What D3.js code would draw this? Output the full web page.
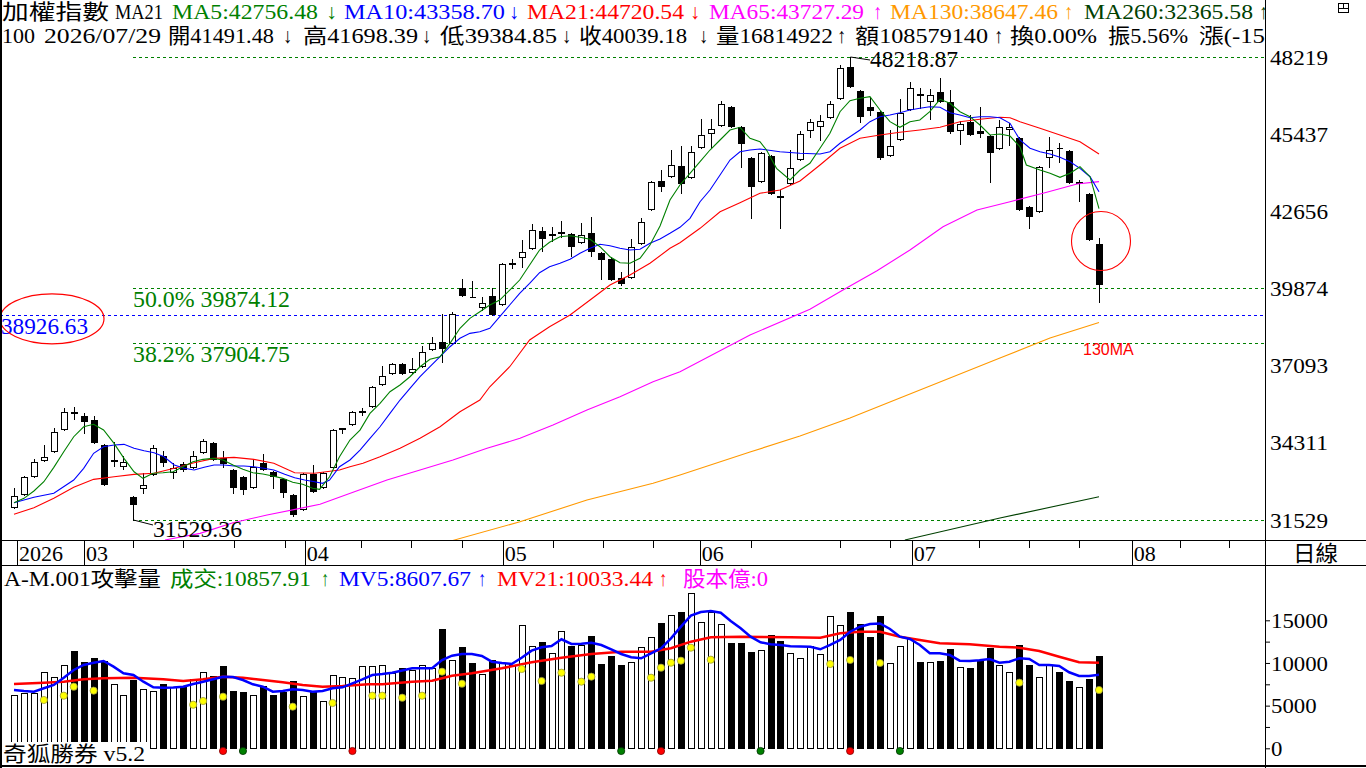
<!DOCTYPE html>
<html>
<head>
<meta charset="utf-8">
<script src="https://cdn.jsdelivr.net/npm/d3@7"></script>
<style>
    body { margin: 0; background: #fff; }
    svg { display: block; }
    text { font-family: "Liberation Serif", "Noto Sans CJK TC", serif; }
</style>
</head>
<body>
<svg id="chart" width="1366" height="768"></svg>
<script>
// Daily candles, index 1..110 (Feb 2026 -> 2026/07/29)
var opens = [31997, 32466, 33115, 33691, 34016, 34809, 35422, 35277, 35133, 34232,
    33655, 33475, 32358, 32682, 33187, 33835, 33259, 33547, 33439, 33980,
    34304, 33763, 33331, 33078, 32718, 33583, 33259, 33006, 32430, 31925,
    33187, 32718, 33439, 34827, 34989, 35440, 35638, 36431, 36827, 37152,
    36864, 37080, 37693, 37945, 37909, 39892, 39585, 39207, 39603, 39315,
    40775, 41009, 41334, 41946, 41820, 41892, 41838, 41550, 41874, 41153,
    40937, 40252, 40288, 41514, 42740, 43749, 43929, 44290, 43893, 44975,
    45479, 45768, 46417, 45696, 44578, 43749, 44650, 43208, 43677, 44542,
    45587, 45732, 46056, 46741, 47859, 46993, 46417, 46236, 44686, 45263,
    46345, 46885, 46633, 46957, 46597, 45587, 45876, 45551, 45371, 44939,
    45624, 45299, 42812, 42667, 44614, 44939, 44830, 43695, 43280, 41491.48];
var highs = [32682, 33115, 33727, 34232, 34845, 35566, 35602, 35385, 35277, 34268,
    34340, 33835, 32394, 33223, 34232, 34016, 33583, 33619, 34016, 34448,
    34340, 34016, 33367, 33115, 33727, 33908, 33295, 33042, 32466, 33223,
    33511, 33259, 34809, 34845, 35458, 35566, 36359, 37080, 37188, 37188,
    37368, 37801, 38125, 38954, 39026, 40216, 40144, 39567, 39892, 40793,
    40937, 41622, 42199, 42091, 42091, 42307, 41874, 42235, 42451, 41189,
    41009, 40468, 41658, 42415, 43749, 44145, 44866, 45011, 45011, 45984,
    45984, 46633, 46453, 45732, 44614, 44794, 44686, 43424, 44866, 45551,
    45984, 46128, 46633, 47931, 48218.87, 47029, 46777, 46272, 45587, 46705,
    47318, 47102, 47066, 47462, 47029, 45912, 46128, 46417, 45407, 45948,
    45840, 45335, 42848, 44290, 45335, 45119, 44866, 43785, 43316, 41698.39];
var lows = [31961, 32430, 33078, 33655, 33980, 34773, 35169, 34665, 34304, 32790,
    33475, 33367, 31529.36, 32502, 33151, 33475, 33042, 33295, 33403, 33944,
    33691, 33439, 32502, 32466, 32682, 33331, 32682, 32358, 31673, 31889,
    32538, 32682, 33403, 34665, 34953, 35313, 35602, 36395, 36791, 36791,
    36827, 37044, 37657, 37224, 37873, 39603, 39567, 39098, 38918, 39279,
    40613, 40649, 41298, 41225, 41586, 41730, 41045, 41514, 41045, 40216,
    40180, 40000, 40252, 41478, 42703, 43388, 43893, 43316, 43857, 44939,
    44975, 45732, 45696, 44254, 42415, 43713, 43280, 42055, 43641, 44506,
    45335, 45227, 46020, 46705, 47138, 45876, 46128, 44542, 44650, 45227,
    46308, 46381, 45984, 46597, 45479, 45083, 45407, 45335, 43713, 44903,
    45047, 42703, 42055, 42631, 44254, 44434, 43677, 43028, 41622, 39384.85];
var closes = [32394, 33078, 33619, 33799, 34701, 35422, 35404, 35097, 34340, 32826,
    33691, 33619, 32105, 32790, 34124, 33619, 33403, 33367, 33835, 34376,
    33727, 33583, 32718, 32646, 33439, 33367, 33115, 32538, 31745, 33187,
    32574, 33223, 34773, 34845, 35422, 35458, 36323, 36719, 37152, 36827,
    36972, 37585, 37909, 37729, 38954, 39639, 39567, 39351, 38954, 40757,
    40793, 41189, 41982, 41694, 41838, 41910, 41406, 41802, 41225, 40937,
    40216, 40072, 41370, 42271, 43713, 43569, 44326, 43677, 44794, 45407,
    45624, 46525, 45732, 45119, 43569, 44758, 43316, 43190, 44218, 45443,
    45876, 45912, 46525, 47823, 47174, 46092, 46308, 44614, 45011, 46200,
    47102, 46867, 46849, 46633, 45551, 45804, 45443, 45479, 44794, 45696,
    45696, 42740, 42487, 44254, 44866, 44921, 43713, 43713, 41658, 40039.18];
var volumes = [6250, 6520, 6500, 8900, 8360, 9730, 11400, 10080, 10620, 10230,
    7540, 6250, 8000, 6910, 6720, 7540, 7150, 7150, 8090, 8900,
    8470, 9650, 6720, 6600, 6250, 7300, 6250, 6630, 7890, 6130,
    6630, 5500, 8590, 8360, 8200, 9650, 9650, 9730, 8790, 9380,
    9140, 9730, 9380, 13980, 10310, 11870, 10000, 8670, 10310, 10030,
    9760, 14410, 11950, 12460, 11130, 13710, 11990, 12110, 13160, 9880,
    10820, 9760, 10080, 11870, 13010, 14690, 15590, 15970, 18160, 14770,
    16010, 14530, 12340, 12380, 11290, 11520, 13280, 12580, 11170, 10580,
    11990, 11050, 15510, 14450, 15970, 14570, 13040, 15510, 10000, 11990,
    12890, 10110, 10110, 10230, 11640, 9530, 9410, 10230, 11760, 9760,
    8940, 12110, 9760, 8360, 9760, 8940, 7890, 7180, 8120, 10857.91];

// Moving averages: [bar index, value]
var ma5 = [[1, 32152], [2, 32310], [3, 32574], [4, 32909], [5, 33428], [6, 33990], [7, 34531], [8, 34891], [9, 34978], [10, 34773],
    [11.05, 34293], [12.05, 33752], [13.06, 33269], [13.96, 33031], [14.96, 33212], [15.97, 33233], [16.97, 33269], [17.98, 33449],
    [18.98, 33630], [19.99, 33716], [20.99, 33752], [22, 33691], [23, 33511], [24, 33356], [25, 33233], [26, 33186], [27, 33114],
    [28, 33031], [29, 32887], [30, 32815], [31, 32671], [31.7, 32635], [32.7, 33089], [33.7, 33810], [34.75, 34412], [35.76, 34772],
    [36.76, 35373], [37.77, 35734], [38.77, 36152], [39.78, 36395], [40.78, 36694], [41.79, 37054], [42.79, 37321], [43.8, 37415],
    [44.8, 37898], [45.8, 38439], [46.8, 38799], [47.8, 39037], [48.8, 39279], [49.8, 39459], [50.8, 39819], [51.8, 40180],
    [52.8, 40721], [53.8, 41261], [54.8, 41539], [55.85, 41741], [56.86, 41777], [57.86, 41719], [58.87, 41647], [59.87, 41380],
    [60.87, 41020], [61.88, 40804], [62.88, 40782], [63.89, 40962], [64.89, 41442], [65.9, 42127], [66.9, 43064], [67.9, 43605],
    [68.91, 44026], [69.92, 44445], [70.92, 44866], [71.93, 45227], [72.93, 45587], [73.93, 45685], [74.94, 45288], [75.94, 45165],
    [76.6, 44866], [77.6, 44206], [78.96, 43785], [79.96, 44145], [80.96, 44387], [81.97, 44928], [82.97, 45469], [83.98, 46247],
    [84.98, 46644], [85.99, 46730], [86.99, 46788], [88, 46308], [89, 45887], [90, 45685], [91.01, 45887], [92, 45948],
    [93, 46247], [94.03, 46694], [95.03, 46550], [96.03, 46247], [97.04, 46067], [98.04, 45768], [99.05, 45407], [100.05, 45443],
    [101.06, 45371], [102.06, 44985], [102.7, 44326], [104.07, 44145], [105.08, 44026], [106.08, 43882], [107.09, 44026],
    [108.09, 44264], [109.1, 43904], [110, 42756.48]];
var ma10 = [[1, 32152], [3, 32347], [5, 32491], [7, 32970], [8, 33392], [9, 33933], [10, 34170], [11.05, 34232], [12.05, 34257],
    [13.06, 34113], [14.07, 34026], [15.07, 33954], [16.07, 33810], [17.1, 33511], [18.1, 33392], [19.1, 33331], [20.1, 33428],
    [21.1, 33511], [22.1, 33511], [23.1, 33475], [24.1, 33475], [25.1, 33450], [26.1, 33392], [27.1, 33331], [28.2, 33176],
    [29.2, 33053], [30.2, 32970], [31.2, 32909], [32, 32851], [32.7, 32970], [33.7, 33450], [34.75, 33692], [35.76, 34051],
    [36.76, 34473], [37.77, 34891], [38.77, 35374], [39.78, 35854], [40.78, 36276], [41.79, 36694], [42.79, 37054], [43.8, 37415],
    [44.8, 37775], [45.8, 38078], [46.8, 38258], [47.8, 38316], [48.8, 38439], [49.8, 38857], [50.8, 39279], [51.8, 39701],
    [52.8, 40061], [53.8, 40443], [54.8, 40660], [55.85, 40782], [56.86, 40926], [57.86, 41142], [58.87, 41323], [59.87, 41467],
    [60.87, 41416], [61.88, 41323], [62.88, 41262], [63.89, 41287], [64.89, 41503], [65.9, 41658], [66.9, 41863], [67.9, 42080],
    [68.91, 42404], [69.92, 43003], [70.92, 43424], [71.93, 43965], [72.93, 44506], [73.93, 44805], [74.94, 44866], [75.94, 44902],
    [77.95, 44805], [79.96, 44748], [81.97, 44722], [82.97, 44805], [83.98, 45108], [84.98, 45346], [85.99, 45587], [86.99, 45887],
    [88, 46067], [89, 46128], [90, 46211], [91.01, 46308], [92, 46370], [93, 46427], [94.03, 46406], [95.03, 46211], [96.03, 46128],
    [97.04, 46031], [98.04, 46067], [99.05, 46067], [100.05, 46031], [101.06, 45829], [102.06, 45227], [103.07, 44928],
    [104.07, 44805], [105.08, 44722], [106.08, 44603], [107.09, 44445], [108.09, 44206], [109.1, 43904], [110, 43358.70]];
var ma21 = [[1, 31733], [3, 31971], [5, 32310], [7, 32707], [9, 32995], [11.05, 33089], [13.06, 33175], [15.07, 33212],
    [17.1, 33392], [19.1, 33594], [21.1, 33752], [23.1, 33788], [25.1, 33716], [27.1, 33572], [28.2, 33392], [29.2, 33233],
    [31.2, 33212], [33.7, 33331], [34.75, 33450], [36.06, 33572], [37.77, 33810], [39.78, 34113], [41.79, 34473], [43.8, 34891],
    [45.8, 35432], [47.8, 35854], [48.8, 36333], [50.8, 37054], [52.8, 38017], [54.8, 38496], [56.86, 38918], [58.87, 39459],
    [60.87, 40000], [62.88, 40360], [64.89, 40782], [66.9, 41323], [67.9, 41525], [69.92, 42044], [71.93, 42642], [73.93, 42967],
    [75.94, 43305], [77.95, 43424], [79.96, 43749], [81.97, 44326], [83.98, 44928], [85.99, 45288], [88, 45407], [90, 45504],
    [92, 45587], [94.03, 45685], [96.03, 45887], [98.04, 45973], [100.05, 46045], [101.06, 46031], [102.06, 45887],
    [104.07, 45649], [106.08, 45407], [108.09, 45166], [110, 44720.54]];
var ma65 = [[16.17, 30807], [19.69, 31048], [23, 31430], [26.42, 31708], [29.73, 31949], [31.74, 32094], [35.06, 32526],
    [38.47, 32970], [41.79, 33330], [45.1, 33691], [48.52, 34113], [51.83, 34473], [55.15, 34953], [58.56, 35493],
    [61.88, 35973], [65.2, 36514], [67.91, 36874], [74.94, 38197], [80.96, 39124], [84.28, 39820], [87.7, 40515],
    [91.01, 41262], [94.33, 42102], [97.74, 42704], [101.06, 43003], [104.38, 43305], [107.79, 43641], [110, 43727.29]];
var ma130 = [[44.9, 30775], [51.83, 31467], [58.56, 32249], [65.2, 32851], [67.91, 33150], [74.94, 33979], [79.96, 34556],
    [84.98, 35205], [90, 35926], [95.03, 36647], [100.05, 37368], [105.08, 38089], [110, 38647.46]];
var ma260 = [[90.5, 30807], [100.05, 31600], [110, 32365.58]];

// Volume panel series
var mv5 = [6833, 6716, 6634, 7032, 7419, 8274, 9177, 9763, 10032, 10232,
    9564, 8790, 8591, 7806, 7149, 7102, 7126, 7220, 7536, 7806,
    8087, 8392, 8356, 8005, 7501, 7220, 6634, 6716, 6915, 6833,
    6634, 6716, 7032, 7149, 7618, 8087, 8591, 8708, 8860, 9118,
    9376, 9376, 9376, 10349, 10853, 11052, 11052, 10818, 10150, 9997,
    9880, 10618, 11439, 11837, 11990, 12775, 12224, 12259, 12376, 12107,
    11603, 11052, 10665, 10548, 11134, 11720, 12892, 14252, 15541, 15974,
    16092, 15892, 14920, 14064, 13080, 12423, 12189, 12107, 11954, 11931,
    11908, 11603, 12107, 12693, 13666, 14252, 14568, 14627, 13982, 13080,
    12810, 12107, 11134, 11134, 10935, 10267, 10232, 10314, 10466, 10032,
    10150, 10548, 10466, 9763, 9763, 9646, 8907, 8474, 8474, 8607.67];
var mv21 = [[1, 7536], [4, 7688], [6, 7806], [8, 8087], [10, 8204], [13, 8274], [16, 8087], [18, 7888], [20, 8087], [22, 8392],
    [24, 8274], [26, 8005], [28, 7735], [30, 7419], [32, 7220], [34, 7302], [36.6, 7501], [38, 7501], [41, 7806], [43, 7923],
    [45, 8509], [47, 8790], [50, 9376], [53, 10079], [56, 10618], [59, 11052], [62, 11322], [65, 11322], [67, 11720], [69, 12494],
    [71, 13009], [74, 13080], [79, 13009], [82, 12962], [84, 13478], [86, 13666], [88, 13666], [90, 13080], [92, 12693],
    [94, 12306], [97, 12189], [100, 11908], [102, 11790], [104, 11404], [106, 10736], [108, 10079], [110, 10033.44]];
var attackDots = [[4, 5661], [6, 6165], [7, 7220], [9, 6751], [19, 5110], [20, 5544], [22, 6048], [29, 4876], [33, 5309],
    [37, 6165], [38, 6165], [40, 5930], [42, 6165], [44, 8978], [46, 7571], [52, 9294], [54, 7888], [56, 8860], [58, 7806],
    [59, 8392], [65, 8274], [66, 9446], [67, 10032], [68, 10267], [69, 11790], [71, 10384], [83, 9880], [85, 10349],
    [88, 9997], [102, 7688], [110, 6833]];
var redSignals = [22, 35, 66, 85];
var greenSignals = [24, 62, 76, 90];

// Axis ticks / levels
var priceTicks = [48218.87, 45437.29, 42655.70, 39874.12, 37092.53, 34310.94, 31529.36];
var volTicks = [0, 2500, 5000, 7500, 10000, 12500, 15000];
var fibLevels = [31529.36, 37904.75, 39874.12, 48218.87];
var fibNames = ["", "38.2%", "50.0%", ""];
var markLevel = 38926.63;
var monthTicks = [1.3, 8.03, 30.2, 50.1, 69.9, 91.2, 113.3];
var monthLabels = ["2026", "03", "04", "05", "06", "07", "08"];
var weekTicks = [12.95, 17.98, 23.1, 28.2, 35.9, 40.9, 46, 55.1, 60.2, 65.2, 75, 83.96, 89, 97.9, 103, 108, 118.1, 123.1];
var dayVolume = 16814922, dayAmount = 108579140;

//Colours
var cGreen = "#008000", cBlue = "#0000ff", cRed = "#ff0000", cMag = "#ff00ff", cOrange = "#ff9900", cDark = "#004000";

var svg = d3.select("#chart");
var plotR = 1266;

var x = d3.scaleLinear().domain([1, 110]).range([14, 1099]);
var y = d3.scaleLinear().domain([31529.36, 48218.87]).range([520, 57]);
var yv = d3.scaleLinear().domain([0, 15000]).range([748.3, 620.3]);

var defs = svg.append("defs");
defs.append("clipPath").attr("id", "clipPrice").append("rect")
    .attr("x", 0).attr("y", 0).attr("width", plotR).attr("height", 541);
defs.append("clipPath").attr("id", "clipVol").append("rect")
    .attr("x", 0).attr("y", 566).attr("width", plotR).attr("height", 200);
defs.append("clipPath").attr("id", "clipHead").append("rect")
    .attr("x", 0).attr("y", 0).attr("width", 1265).attr("height", 50);

// small helper for fitted text
function label(g, s, px, py, w, color, size) {
    var t = g.append("text")
        .attr("x", px).attr("y", py)
        .attr("fill", color || "#000")
        .attr("font-size", size || 21)
        .text(s);
    if (w) t.attr("textLength", w).attr("lengthAdjust", "spacingAndGlyphs");
    return t;
}

var candles = d3.range(opens.length).map(function (k) {
    return { i: k + 1, o: opens[k], h: highs[k], l: lows[k], c: closes[k], v: volumes[k] };
});
function px(i) { return Math.round(x(i)); }

// ---------- price panel ----------
var pg = svg.append("g").attr("clip-path", "url(#clipPrice)");

// fibonacci lines
pg.selectAll(".fib")
    .data(fibLevels)
    .enter()
    .append("line")
    .attr("x1", px(13)).attr("x2", plotR)
    .attr("y1", function (d) { return Math.round(y(d)) + 0.5; })
    .attr("y2", function (d) { return Math.round(y(d)) + 0.5; })
    .attr("stroke", cGreen).attr("stroke-dasharray", "3,3");

pg.selectAll(".fibText")
    .data(fibLevels.filter(function (d, k) { return fibNames[k] !== ""; }))
    .enter()
    .append("text")
    .attr("x", 133)
    .attr("y", function (d) { return y(d) + 19; })
    .attr("fill", cGreen)
    .attr("font-size", 24)
    .attr("textLength", 157).attr("lengthAdjust", "spacingAndGlyphs")
    .text(function (d) { return fibNames[fibLevels.indexOf(d)] + " " + d.toFixed(2); });

// blue level
pg.append("line")
    .attr("x1", 0).attr("x2", plotR)
    .attr("y1", Math.round(y(markLevel)) + 0.5).attr("y2", Math.round(y(markLevel)) + 0.5)
    .attr("stroke", cBlue).attr("stroke-dasharray", "3,3");
label(pg, markLevel.toFixed(2), 1, y(markLevel) + 19, 87, cBlue, 24);
pg.append("ellipse")
    .attr("cx", 52).attr("cy", y(markLevel) + 4).attr("rx", 52).attr("ry", 25)
    .attr("fill", "none").attr("stroke", cRed).attr("stroke-width", 1.2);

// candles
var cg = pg.append("g").attr("shape-rendering", "crispEdges");
cg.selectAll(".wick")
    .data(candles)
    .enter()
    .append("line")
    .attr("x1", function (d) { return px(d.i) + 0.5; })
    .attr("x2", function (d) { return px(d.i) + 0.5; })
    .attr("y1", function (d) { return Math.round(y(d.h)); })
    .attr("y2", function (d) { return Math.round(y(d.l)) + 1; })
    .attr("stroke", "#000");

cg.selectAll(".body")
    .data(candles)
    .enter()
    .append("path")
    .attr("d", function (d) {
        var x0 = px(d.i) - 3 + 0.5, x1 = px(d.i) + 3 + 0.5;
        var t = Math.round(y(Math.max(d.o, d.c))) + 0.5;
        var b = Math.round(y(Math.min(d.o, d.c))) + 0.5;
        return "M" + x0 + "," + t + "H" + x1 + "V" + b + "H" + x0 + "Z";
    })
    .attr("fill", function (d) { return d.c >= d.o ? "#fff" : "#000"; })
    .attr("stroke", "#000");

// moving averages
var maLine = d3.line()
    .x(function (d) { return x(d[0]); })
    .y(function (d) { return y(d[1]); });
[[ma260, cDark], [ma130, cOrange], [ma65, cMag], [ma21, cRed], [ma10, cBlue], [ma5, cGreen]].forEach(function (m) {
    pg.append("path")
        .attr("d", maLine(m[0]))
        .attr("fill", "none")
        .attr("stroke", m[1])
        .attr("stroke-width", 1.1);
});

// high / low callouts
var hiY = y(48218.87), loY = y(31529.36);
pg.append("path")
    .attr("d", "M" + (px(85) + 0.5) + "," + hiY + "L" + (px(85) + 20) + "," + (hiY + 3))
    .attr("stroke", "#000").attr("fill", "none");
label(pg, "48218.87", 870, hiY + 10, 88, "#000", 24);
pg.append("path")
    .attr("d", "M" + (px(13) + 0.5) + "," + loY + "L" + (px(13) + 20) + "," + (loY + 5))
    .attr("stroke", "#000").attr("fill", "none");
label(pg, "31529.36", 153, loY + 17, 89, "#000", 24);

// annotations
pg.append("circle")
    .attr("cx", x(110) + 2).attr("cy", y(41586)).attr("r", 29.5)
    .attr("fill", "none").attr("stroke", cRed).attr("stroke-width", 1.1);
pg.append("text")
    .attr("x", 1083).attr("y", 355)
    .attr("fill", cRed)
    .attr("font-size", 16)
    .style("font-family", "'Liberation Sans', Arial, sans-serif")
    .text("130MA");

// price axis
var yAxis = d3.axisRight(y).tickValues(priceTicks).tickSize(0).tickPadding(4)
    .tickFormat(d3.format(".0f"));
var ya = svg.append("g").attr("transform", "translate(" + plotR + ",0)").call(yAxis);
ya.select(".domain").remove();
ya.selectAll("text")
    .attr("font-size", 22).attr("font-family", "'Liberation Serif', serif")
    .attr("fill", "#000").attr("dy", "0.32em")
    .attr("textLength", 58).attr("lengthAdjust", "spacingAndGlyphs");

// ---------- header ----------
var hg = svg.append("g").attr("clip-path", "url(#clipHead)");
var last = candles[candles.length - 1];
function lastOf(a) { return a[a.length - 1][1].toFixed(2); }
var head1 = [
    ["加權指數", 2, 107, "#000"], ["MA21", 115, 48, "#000"],
    ["MA5:" + lastOf(ma5), 172, 146, cGreen], ["↓", 326, 11, cGreen],
    ["MA10:" + lastOf(ma10), 344, 161, cBlue], ["↓", 509, 10, cBlue],
    ["MA21:" + lastOf(ma21), 527, 157, cRed], ["↓", 690, 10, cRed],
    ["MA65:" + lastOf(ma65), 709, 155, cMag], ["↑", 873, 9, cMag],
    ["MA130:" + lastOf(ma130), 890, 168, cOrange], ["↑", 1064, 9, cOrange],
    ["MA260:" + lastOf(ma260), 1084, 169, cDark], ["↑", 1259, 9, cDark]
];
head1.forEach(function (s) { label(hg, s[0], s[1], 19, s[2], s[3], 21); });
var head2 = [
    ["100", 2, 33], ["2026/07/29", 44, 117],
    ["開" + last.o.toFixed(2), 168, 106], ["↓", 283, 9],
    ["高" + last.h.toFixed(2), 303, 115], ["↓", 422, 9],
    ["低" + last.l.toFixed(2), 440, 117], ["↓", 562, 9],
    ["收" + last.c.toFixed(2), 579, 108], ["↓", 699, 9],
    ["量" + dayVolume, 716, 117], ["↑", 837, 9],
    ["額" + dayAmount, 855, 133], ["↑", 994, 9],
    ["換0.00%", 1010, 87], ["振5.56%", 1108, 80], ["漲(-15", 1199, 66]
];
head2.forEach(function (s) { label(hg, s[0], s[1], 43, s[2], "#000", 21); });

// little window icon top right
svg.append("rect").attr("x", 1338.5).attr("y", 3.5).attr("width", 10).attr("height", 9)
    .attr("fill", "none").attr("stroke", "#000");
svg.append("path").attr("d", "M1338.5,8.5H1348.5M1343.5,3.5V8.5").attr("stroke", "#000");

// ---------- date band ----------
var dg = svg.append("g").attr("shape-rendering", "crispEdges");
dg.selectAll(".wk")
    .data(weekTicks)
    .enter()
    .append("line")
    .attr("x1", function (d) { return Math.round(x(d)) + 0.5; })
    .attr("x2", function (d) { return Math.round(x(d)) + 0.5; })
    .attr("y1", 541).attr("y2", 548)
    .attr("stroke", "#000");
dg.selectAll(".mo")
    .data(monthTicks)
    .enter()
    .append("line")
    .attr("x1", function (d) { return Math.round(x(d)) + 0.5; })
    .attr("x2", function (d) { return Math.round(x(d)) + 0.5; })
    .attr("y1", 541).attr("y2", 565)
    .attr("stroke", "#000");
dg.selectAll(".moText")
    .data(monthTicks)
    .enter()
    .append("text")
    .attr("x", function (d) { return x(d) + 2; })
    .attr("y", 561)
    .attr("font-size", 22)
    .attr("textLength", function (d, k) { return monthLabels[k].length * 11; })
    .attr("lengthAdjust", "spacingAndGlyphs")
    .text(function (d, k) { return monthLabels[k]; });
label(svg, "日線", 1293, 561, 45, "#000", 22);

// ---------- volume panel ----------
var vg = svg.append("g").attr("clip-path", "url(#clipVol)");
var vb = vg.append("g").attr("shape-rendering", "crispEdges");
vb.selectAll(".vol")
    .data(candles)
    .enter()
    .append("path")
    .attr("d", function (d) {
        var x0 = px(d.i) - 3 + 0.5, x1 = px(d.i) + 3 + 0.5;
        var t = Math.round(yv(d.v)) + 0.5, b = 748.5;
        return "M" + x0 + "," + t + "H" + x1 + "V" + b + "H" + x0 + "Z";
    })
    .attr("fill", function (d) { return d.c >= d.o ? "#fff" : "#000"; })
    .attr("stroke", "#000");

var mvLine = d3.line()
    .x(function (d) { return x(d[0]); })
    .y(function (d) { return yv(d[1]); });
vg.append("path")
    .attr("d", mvLine(mv21))
    .attr("fill", "none").attr("stroke", cRed).attr("stroke-width", 2.5);
vg.append("path")
    .attr("d", mvLine(mv5.map(function (v, k) { return [k + 1, v]; })))
    .attr("fill", "none").attr("stroke", cBlue).attr("stroke-width", 2.5);

vg.selectAll(".atk")
    .data(attackDots)
    .enter()
    .append("circle")
    .attr("cx", function (d) { return x(d[0]); })
    .attr("cy", function (d) { return yv(d[1]); })
    .attr("r", 3.6)
    .attr("fill", "#ffff00")
    .attr("stroke", "#9a9a40").attr("stroke-width", 0.8);

vg.selectAll(".sigR")
    .data(redSignals)
    .enter()
    .append("circle")
    .attr("cx", function (d) { return x(d); }).attr("cy", 751)
    .attr("r", 3.6).attr("fill", "#ff0000").attr("stroke", "#800000").attr("stroke-width", 0.8);
vg.selectAll(".sigG")
    .data(greenSignals)
    .enter()
    .append("circle")
    .attr("cx", function (d) { return x(d); }).attr("cy", 751)
    .attr("r", 3.6).attr("fill", "#008000").attr("stroke", "#003000").attr("stroke-width", 0.8);

// volume header
var vh = [
    ["A-M.001攻擊量", 4, 157, "#000"],
    ["成交:" + volumes[volumes.length - 1].toFixed(2), 170, 141, cGreen], ["↑", 321, 8, cGreen],
    ["MV5:" + mv5[mv5.length - 1].toFixed(2), 339, 132, cBlue], ["↑", 478, 8, cBlue],
    ["MV21:" + lastOf(mv21), 497, 156, cRed], ["↑", 659, 8, cRed],
    ["股本億:0", 683, 85, cMag]
];
vh.forEach(function (s) { label(vg, s[0], s[1], 586, s[2], s[3], 21); });

// software tag
vg.append("rect").attr("x", 0).attr("y", 742).attr("width", 147).attr("height", 24).attr("fill", "#fff");
label(vg, "奇狐勝券 v5.2", 3, 761, 142, "#000", 21);

// volume axis
var vAxis = d3.axisRight(yv).tickValues(volTicks).tickSize(4).tickPadding(1)
    .tickFormat(function (d) { return d % 5000 === 0 ? d : ""; });
var va = svg.append("g").attr("transform", "translate(" + plotR + ",0)").call(vAxis);
va.select(".domain").remove();
va.selectAll("line").attr("stroke", "#000");
va.selectAll("text")
    .attr("font-size", 22).attr("font-family", "'Liberation Serif', serif")
    .attr("fill", "#000").attr("dy", "0.32em")
    .each(function (d) {
        if (d % 5000 === 0) d3.select(this).attr("textLength", String(d).length * 11.4).attr("lengthAdjust", "spacingAndGlyphs");
    });

// ---------- frame ----------
var fg = svg.append("g").attr("shape-rendering", "crispEdges").attr("stroke", "#000");
fg.append("line").attr("x1", 1).attr("x2", 1).attr("y1", 0).attr("y2", 768).attr("stroke-width", 2);
fg.append("line").attr("x1", 1265.5).attr("x2", 1265.5).attr("y1", 0).attr("y2", 768);
fg.append("line").attr("x1", 0).attr("x2", 1366).attr("y1", 540.5).attr("y2", 540.5);
fg.append("line").attr("x1", 0).attr("x2", 1366).attr("y1", 565.5).attr("y2", 565.5);
fg.append("line").attr("x1", 0).attr("x2", 1366).attr("y1", 766).attr("y2", 766).attr("stroke-width", 2);
</script>
</body>
</html>
